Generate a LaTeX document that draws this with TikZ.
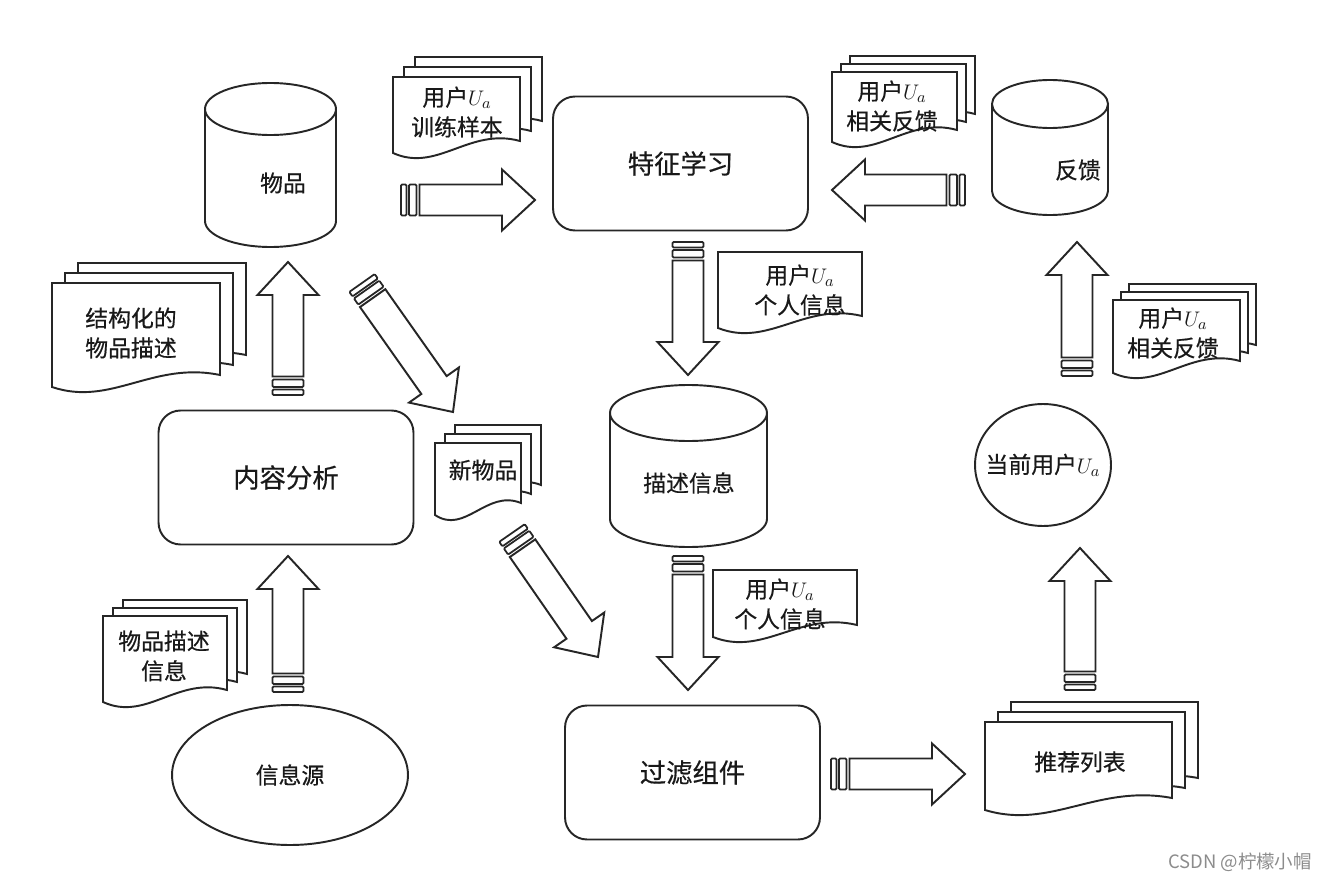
\documentclass[tikz,border=0pt]{standalone}
\usepackage{fontspec}
\setmainfont{Noto Sans CJK SC}[FakeBold=0.5]
\newfontfamily\markfont{Noto Sans CJK SC}
\usepackage{tikz}
\usetikzlibrary{shapes,arrows,positioning,calc,arrows.meta}

\tikzset{
  line/.style={draw=black!85, line width=1.1pt},
  procbox/.style={line, rounded corners=0.44cm, minimum width=5.1cm, minimum height=2.68cm, text=black!90, font=\fontsize{15}{17}\selectfont},
  docline/.style={line, fill=white},
  doctext/.style={align=center, text=black!90, font=\fontsize{13}{17}\selectfont},
  stripe/.style={line, line width=1pt, rounded corners=0.6pt},
}

% hollow block arrow with a striped tail, from #1 (tail) to #2 (tip)
\newcommand{\hollowarrow}[2]{%
  \coordinate (ha) at ($(#1)!0.37cm!(#2)$);
  \coordinate (hb) at ($(#2)!0.66cm!(#1)$);
  \coordinate (sa) at ($(#1)!0.11cm!(#2)$);
  \coordinate (sb) at ($(#1)!0.16cm!(#2)$);
  \coordinate (sc) at ($(#1)!0.31cm!(#2)$);
  \draw[line, fill=white] ($(ha)!0.31cm!90:(#2)$) -- ($(hb)!0.31cm!90:(#2)$) -- ($(hb)!0.61cm!90:(#2)$)
    -- (#2) -- ($(hb)!0.61cm!-90:(#2)$) -- ($(hb)!0.31cm!-90:(#2)$) -- ($(ha)!0.31cm!-90:(#2)$) -- cycle;
  \draw[stripe] ($(#1)!0.31cm!90:(#2)$) -- ($(sa)!0.31cm!90:(#2)$) -- ($(sa)!0.31cm!-90:(#2)$) -- ($(#1)!0.31cm!-90:(#2)$) -- cycle;
  \draw[stripe] ($(sb)!0.31cm!90:(#2)$) -- ($(sc)!0.31cm!90:(#2)$) -- ($(sc)!0.31cm!-90:(#2)$) -- ($(sb)!0.31cm!-90:(#2)$) -- cycle;
}

% one sheet with a wavy lower edge: left, top, width, height
\newcommand{\docpage}[4]{%
  \draw[docline] (#1,#2) -- ({#1+#3},#2) -- ({#1+#3},{#2+#4-12})
    .. controls ({#1+0.6*#3},{#2+#4-26}) and ({#1+0.35*#3},{#2+#4+20}) .. (#1,{#2+#4}) -- cycle;
}
% three stacked sheets: left, top, width, height, shift x, shift y
\newcommand{\docstack}[6]{%
  \docpage{#1+2*#5}{#2-2*#6}{#3}{#4}
  \docpage{#1+#5}{#2-#6}{#3}{#4}
  \docpage{#1}{#2}{#3}{#4}
}
% database drum: centre x, top y, bottom y, x radius, y radius
\newcommand{\storage}[5]{%
  \draw[line, fill=white] ({#1-#4},#2) -- ({#1-#4},#3) arc[start angle=180, end angle=0, x radius=#4, y radius=#5] -- ({#1+#4},#2);
  \draw[line] (#1,#2) ellipse [x radius=#4, y radius=#5];
}

\begin{document}
\begin{tikzpicture}[x=0.02cm, y=-0.02cm]
    \fill[white] (0,0) rectangle (1330,882);
    \useasboundingbox (0,0) rectangle (1330,882);

    % stores
    \storage{270.5}{109}{221}{65.5}{26}
    \storage{688.5}{413}{519}{78.5}{28}
    \storage{1050}{104}{191}{58}{24}
    \node[doctext] (wupin) at (283,183) {物品};
    \node[doctext] (miaoshu) at (689,483) {描述信息};
    \node[doctext] (fankui) at (1078,170) {反馈};

    % processing steps
    \node[procbox] (tezheng) at (680.5,163.5) {特征学习};
    \node[procbox] (neirong) at (286,477.5) {内容分析};
    \node[procbox] (guolv) at (692.5,772.5) {过滤组件};

    \node[line, ellipse, minimum width=4.72cm, minimum height=2.8cm] (xinxiyuan) at (290,775) {};
    \node[doctext] at (xinxiyuan) {信息源};
    \node[line, ellipse, minimum width=2.72cm, minimum height=2.44cm] (yonghu) at (1043,465) {};
    \node[doctext] at (yonghu) {当前用户$U_a$};

    % sheets
    \docstack{393}{77}{127}{76}{11}{10}
    \docstack{832}{72}{125}{70}{9}{8}
    \docstack{52}{283}{168}{104}{13}{10}
    \docstack{435}{443}{86}{72}{10}{9}
    \docstack{1113}{300}{127}{73}{8}{8}
    \docstack{103}{616}{124}{86}{10}{8}
    \docstack{985}{722}{187}{88}{13}{10}
    \docpage{718}{252}{144}{76}
    \docpage{713}{570}{144}{67}

    \node[doctext] (xunlian) at (457,112) {用户$U_a$\\训练样本};
    \node[doctext] (fankuiA) at (892,106) {用户$U_a$\\相关反馈};
    \node[doctext] (gerenA) at (800,290) {用户$U_a$\\个人信息};
    \node[doctext] (gerenB) at (780,604) {用户$U_a$\\个人信息};
    \node[doctext] (jiegou) at (131,333) {结构化的\\物品描述};
    \node[doctext] (xinwupin) at (483,470) {新物品};
    \node[doctext] (fankuiB) at (1173,333) {用户$U_a$\\相关反馈};
    \node[doctext] (wupinxx) at (164,656) {物品描述\\信息};
    \node[doctext] (tuijian) at (1080,762) {推荐列表};

    % block arrows
    \coordinate (a1) at (401,200);  \coordinate (a1e) at (535,200);
    \coordinate (a2) at (965,190);  \coordinate (a2e) at (832,190);
    \coordinate (a3) at (688,242);  \coordinate (a3e) at (688,375);
    \coordinate (a4) at (288,395);  \coordinate (a4e) at (288,262);
    \coordinate (a5) at (362,283);  \coordinate (a5e) at (453,412);
    \coordinate (a6) at (512,533);  \coordinate (a6e) at (598,657);
    \coordinate (a7) at (688,556);  \coordinate (a7e) at (688,690);
    \coordinate (a8) at (288,692);  \coordinate (a8e) at (288,556);
    \coordinate (a9) at (831,774);  \coordinate (a9e) at (965,774);
    \coordinate (a10) at (1080,690); \coordinate (a10e) at (1080,548);
    \coordinate (a11) at (1077,376); \coordinate (a11e) at (1077,242);
    \foreach \a in {a1,a2,a3,a4,a5,a6,a7,a8,a9,a10,a11}
        \hollowarrow{\a}{\a e};

    \node[text=black!45, anchor=east, font=\markfont\fontsize{10.5}{12}\selectfont] (mark) at (1318,862) {CSDN @柠檬小帽};
\end{tikzpicture}
\end{document}
